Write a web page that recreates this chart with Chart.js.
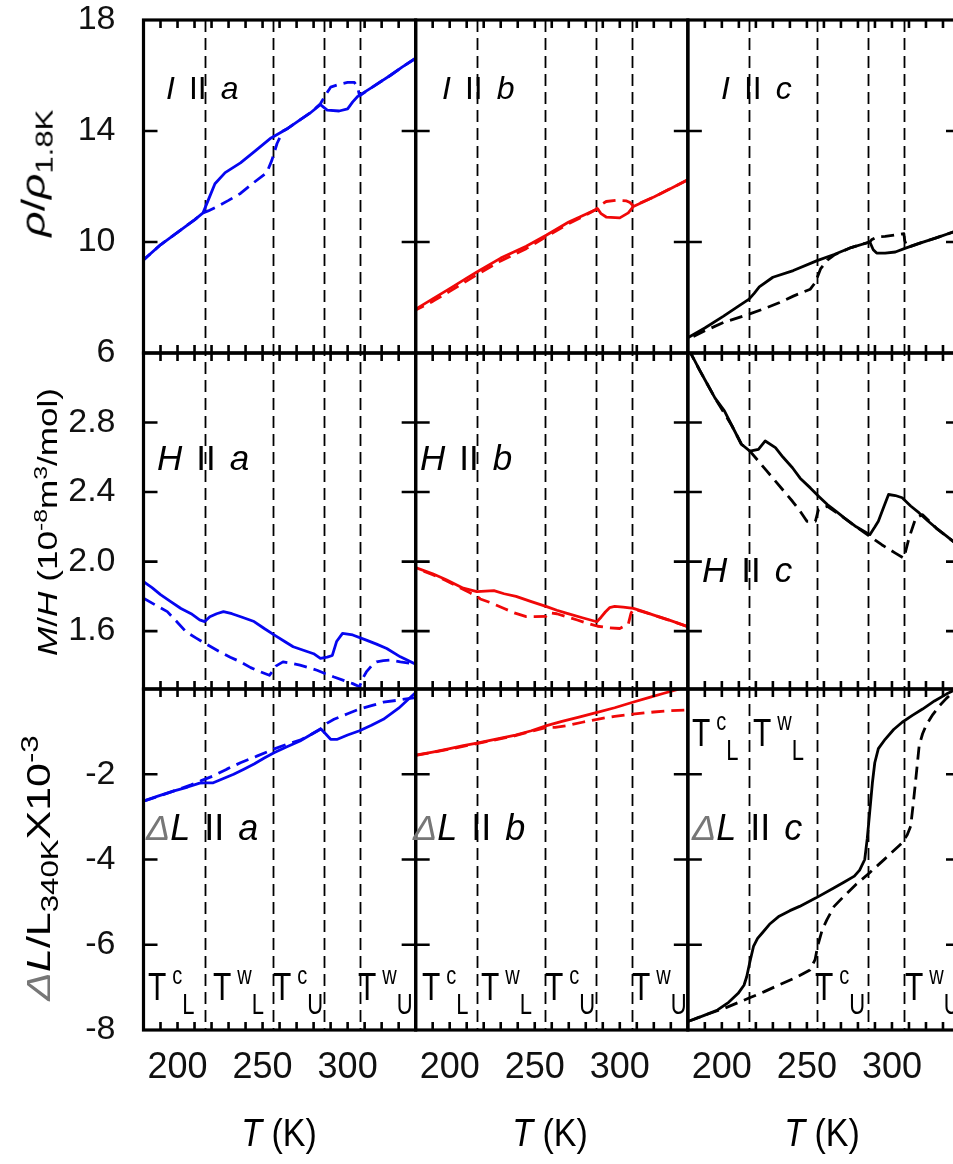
<!DOCTYPE html>
<html>
<head>
<meta charset="utf-8">
<script src="https://cdn.jsdelivr.net/npm/chart.js@4.4.1/dist/chart.umd.min.js"></script>
<style>
  html, body { margin: 0; padding: 0; background: #fff; overflow: hidden; }
  #wrap { position: relative; width: 953px; height: 1164px; overflow: hidden; }
  #wrap canvas { position: absolute; left: 0; top: 0; }
  .lab { position: absolute; font-family: 'Liberation Sans', Arial, sans-serif; color: #000;
         white-space: nowrap; line-height: 1; transform-origin: 0 0; }
  .lab sub, .lab sup { line-height: 1; }
  .d { color: #777; }
</style>
</head>
<body>
<div id="wrap"><canvas id="c" width="962" height="1164"></canvas></div>
<script>
// ---- axes ----
const tRange = [180, 340];
const xTicks = [200, 250, 300];
const minorStep = 10;
const transitionT = [216, 256, 286, 307];   // T_L^c, T_L^w, T_U^c, T_U^w

const rhoRange = [6, 18];
const rhoTicks = [6, 10, 14, 18];
const chiRange = [1.267, 3.2];
const chiTicks = [1.6, 2.0, 2.4, 2.8];
const dlRange = [-8, 0];
const dlTicks = [-8, -6, -4, -2];

// ---- rho / rho(1.8K) ----
const rhoA_solid = [[180,9.35],[190,9.9],[200,10.35],[210,10.8],[215,11.05],[218,11.5],[222,12.1],[228,12.5],[237,12.85],[245,13.25],[255,13.75],[265,14.1],[272,14.4],[278,14.65],[284,14.95],[286,14.85],[288,14.75],[295,14.72],[300,14.8],[303,15.05],[306,15.25],[315,15.6],[325,16.0],[332,16.3],[340,16.62]];
const rhoA_dashed = [[340,16.62],[332,16.3],[325,16.0],[315,15.6],[307,15.27],[306,15.55],[304,15.75],[300,15.75],[295,15.68],[290,15.58],[287,15.3],[284,14.98],[278,14.65],[272,14.4],[265,14.1],[262,14.0],[258.5,13.55],[255.5,12.95],[252.5,12.5],[245,12.15],[237,11.75],[230,11.5],[223,11.27],[218,11.12],[215,11.05],[210,10.8],[200,10.35],[190,9.9],[180,9.35]];
const rhoB_solid = [[180,7.58],[190,7.95],[200,8.32],[210,8.7],[216,8.92],[230,9.42],[245,9.85],[257,10.25],[270,10.72],[280,11.0],[287,11.2],[289,11.02],[292,10.9],[300,10.87],[305,11.05],[308,11.28],[320,11.62],[330,11.93],[340,12.24]];
const rhoB_dashed = [[340,12.24],[330,11.93],[320,11.62],[308,11.3],[306,11.42],[304,11.48],[298,11.5],[292,11.46],[288,11.3],[286,11.17],[280,10.97],[270,10.66],[257,10.2],[245,9.76],[230,9.32],[216,8.82],[200,8.22],[190,7.86],[180,7.55]];
const rhoC_solid = [[180,6.55],[190,6.9],[201,7.33],[210,7.7],[216,7.94],[219,8.15],[222,8.38],[230,8.73],[242,8.97],[256,9.33],[266,9.55],[276,9.8],[287,10.0],[289,9.72],[291,9.6],[296,9.6],[302,9.64],[308,9.78],[316,9.95],[326,10.15],[336,10.36],[340,10.45]];
const rhoC_dashed = [[340,10.45],[336,10.36],[326,10.15],[316,9.95],[309,9.8],[307.5,10.05],[307,10.3],[302,10.25],[296,10.2],[291,10.18],[288,10.08],[287,10.0],[276,9.8],[266,9.53],[262,9.35],[258,9.03],[255,8.55],[252,8.3],[242,8.05],[234,7.82],[225,7.6],[216,7.4],[201,7.1],[190,6.8],[180,6.5]];

// ---- M/H ----
const chiA_solid = [[180,1.885],[185,1.85],[190,1.81],[196,1.77],[202,1.73],[208,1.7],[213,1.665],[216,1.655],[219,1.683],[223,1.70],[227,1.712],[232,1.70],[238,1.68],[245,1.655],[251,1.615],[257,1.577],[263,1.54],[268,1.51],[274,1.49],[280,1.47],[284,1.443],[288,1.45],[291,1.46],[293.5,1.54],[297,1.587],[303,1.578],[311,1.548],[317,1.525],[323,1.50],[331,1.452],[340,1.41]];
const chiA_dashed = [[180,1.79],[187,1.75],[194,1.712],[200,1.65],[205,1.596],[211,1.56],[216,1.53],[225,1.48],[231,1.45],[237,1.423],[243,1.39],[249,1.365],[254,1.346],[256,1.37],[258,1.40],[262,1.423],[267,1.415],[272,1.404],[277,1.39],[282,1.375],[287,1.355],[292,1.336],[298,1.315],[303,1.298],[307,1.28],[309,1.33],[311,1.365],[314,1.40],[317,1.423],[321,1.43],[325,1.433],[331,1.423],[340,1.41]];
const chiB_solid = [[180,1.965],[190,1.93],[198,1.895],[208,1.847],[216,1.827],[221,1.83],[226,1.833],[232,1.815],[239,1.80],[248,1.77],[257,1.741],[263,1.72],[269,1.702],[278,1.677],[286.5,1.654],[289,1.68],[291.5,1.71],[294,1.735],[297,1.742],[302,1.738],[308,1.731],[314,1.712],[320,1.692],[330,1.66],[340,1.625]];
const chiB_dashed = [[340,1.625],[330,1.66],[320,1.692],[308,1.728],[306.5,1.70],[305,1.64],[300,1.615],[293,1.62],[287,1.628],[281,1.645],[275,1.664],[268,1.685],[263,1.70],[258,1.705],[256.5,1.685],[250,1.683],[245,1.683],[238,1.705],[232,1.73],[225,1.76],[218,1.785],[216,1.80],[212,1.82],[205,1.855],[198,1.89],[190,1.925],[180,1.962]];
const chiC_solid = [[180,3.23],[183.5,3.166],[187,3.1],[191.5,3.02],[196,2.94],[201.5,2.867],[206,2.78],[211.5,2.675],[216.5,2.636],[221.5,2.646],[225.5,2.694],[231.5,2.656],[236,2.6],[241.5,2.54],[246,2.48],[252,2.424],[257,2.375],[262,2.328],[267,2.29],[272,2.251],[279,2.2],[287,2.155],[290,2.2],[292,2.232],[295,2.31],[298,2.386],[302,2.38],[306,2.367],[311,2.32],[316,2.28],[321,2.235],[326,2.193],[331,2.155],[336,2.116],[340,2.085]];
const chiC_dashed = [[180,3.23],[187,3.1],[196,2.94],[206,2.78],[211.5,2.675],[216.5,2.636],[221.5,2.578],[226.5,2.52],[231.5,2.463],[236.5,2.405],[241.5,2.347],[246,2.29],[250,2.232],[255,2.232],[256.8,2.30],[262,2.318],[267,2.285],[272,2.25],[279,2.2],[287,2.145],[294,2.097],[302,2.049],[307,2.02],[310,2.135],[314,2.251],[318,2.27],[326,2.193],[336,2.116],[340,2.085]];

// ---- dL / L(340K) x 10^-3 ----
const dlA_solid = [[180,-2.63],[188,-2.52],[198,-2.39],[206,-2.3],[213,-2.21],[216,-2.2],[221,-2.2],[227,-2.1],[233,-2.0],[239,-1.88],[245,-1.76],[251,-1.62],[257,-1.49],[264,-1.36],[272,-1.22],[278,-1.08],[284.3,-0.94],[287,-1.05],[290,-1.18],[294,-1.18],[300,-1.08],[307,-0.98],[314,-0.85],[321,-0.71],[330,-0.45],[340,-0.08]];
const dlA_dashed = [[180,-2.63],[190,-2.5],[200,-2.36],[208,-2.25],[214,-2.15],[221,-2.04],[229,-1.88],[237,-1.73],[247,-1.57],[256.5,-1.41],[264,-1.3],[272,-1.2],[278,-1.08],[284,-0.94],[288,-0.8],[292,-0.71],[300,-0.58],[307,-0.47],[314,-0.39],[321,-0.31],[330,-0.26],[340,-0.2]];
const dlB_solid = [[180,-1.553],[190,-1.48],[200,-1.4],[208,-1.33],[216,-1.27],[228,-1.17],[238.7,-1.08],[248,-0.98],[257,-0.86],[266,-0.76],[276,-0.66],[286.7,-0.55],[297,-0.44],[307.6,-0.31],[318,-0.19],[326,-0.1],[333,-0.02],[340,0.06]];
const dlB_dashed = [[180,-1.56],[200,-1.41],[216,-1.28],[238,-1.1],[257,-0.9],[262,-0.9],[269,-0.86],[278,-0.78],[286.7,-0.71],[297,-0.64],[307.6,-0.59],[320,-0.54],[330,-0.51],[340,-0.49]];
const dlC_solid = [[180,-7.8],[183,-7.76],[190,-7.65],[197.5,-7.53],[204,-7.35],[209.6,-7.14],[213,-6.95],[214.6,-6.75],[216.5,-6.4],[218.6,-6.04],[221,-5.85],[223.6,-5.73],[228,-5.52],[233.7,-5.33],[240,-5.2],[245.7,-5.1],[255.4,-4.9],[265.8,-4.67],[272,-4.53],[277.9,-4.39],[281,-4.25],[284,-4.0],[285.5,-3.5],[286.9,-2.9],[288.5,-2.2],[289.9,-1.73],[292,-1.4],[296,-1.18],[301,-0.95],[306,-0.78],[312,-0.62],[318,-0.47],[325,-0.28],[332,-0.12],[338,0.0]];
const dlC_dashed = [[180,-7.8],[190,-7.65],[201.5,-7.49],[216,-7.25],[225,-7.1],[233.7,-6.94],[243,-6.78],[251.8,-6.59],[254.8,-6.35],[256,-6.1],[256.8,-5.96],[259,-5.65],[261.8,-5.41],[266,-5.1],[271.8,-4.86],[279,-4.58],[286.9,-4.31],[296,-3.98],[306,-3.61],[309,-3.42],[311,-3.22],[312.5,-2.7],[314,-2.12],[316,-1.33],[318,-1.05],[320,-0.86],[324,-0.6],[328,-0.39],[332,-0.22],[335.7,-0.08],[340,0.05]];

const BLUE = '#0606f0';
const RED = '#f00808';
const BLACK = '#000';
const FONT = "'Liberation Sans', Arial, sans-serif";

const colIds = ['x1', 'x2', 'x3'];
const rowIds = ['y1', 'y2', 'y3'];

// panel -> axes, colour, curves
const panels = [
  ['x1', 'y1', BLUE, rhoA_solid, rhoA_dashed],
  ['x2', 'y1', RED, rhoB_solid, rhoB_dashed],
  ['x3', 'y1', BLACK, rhoC_solid, rhoC_dashed],
  ['x1', 'y2', BLUE, chiA_solid, chiA_dashed],
  ['x2', 'y2', RED, chiB_solid, chiB_dashed],
  ['x3', 'y2', BLACK, chiC_solid, chiC_dashed],
  ['x1', 'y3', BLUE, dlA_solid, dlA_dashed],
  ['x2', 'y3', RED, dlB_solid, dlB_dashed],
  ['x3', 'y3', BLACK, dlC_solid, dlC_dashed]
];

const datasets = [];
panels.forEach(([xid, yid, color, solid, dashed]) => {
  const base = { xAxisID: xid, yAxisID: yid, borderColor: color, borderWidth: 2.8,
                 pointRadius: 0, tension: 0, fill: false, borderJoinStyle: 'round' };
  datasets.push({ ...base, data: solid.map(([x, y]) => ({ x, y })) });
  datasets.push({ ...base, data: dashed.map(([x, y]) => ({ x, y })), borderDash: [13, 7] });
});

function xScale(weight) {
  return {
    type: 'linear', position: 'bottom', stack: 'cols', stackWeight: 1, weight,
    min: tRange[0], max: tRange[1],
    grid: { display: false }, border: { display: false },
    afterBuildTicks: s => { s.ticks = xTicks.map(v => ({ value: v })); },
    afterFit: s => { s.height = 134; s.paddingLeft = 0; s.paddingRight = 0; },
    ticks: { font: { family: FONT, size: 36 }, color: '#111', padding: 8,
             maxRotation: 0, autoSkip: false }
  };
}

function yScale(range, ticks, decimals, weight, stackWeight) {
  return {
    type: 'linear', position: 'left', stack: 'rows', stackWeight, weight,
    min: range[0], max: range[1],
    grid: { display: false }, border: { display: false },
    afterBuildTicks: s => { s.ticks = ticks.map(v => ({ value: v })); },
    afterFit: s => { s.width = 143.5; s.paddingTop = 0; s.paddingBottom = 0; },
    ticks: { font: { family: FONT, size: 34 }, color: '#111', padding: 20, autoSkip: false,
             callback: v => v.toFixed(decimals) }
  };
}

// frames, inward ticks and the dashed transition lines
const panelFrames = {
  id: 'panelFrames',
  beforeDatasetsDraw(chart) {
    const { ctx, chartArea } = chart;
    ctx.save();
    ctx.strokeStyle = '#000';
    ctx.lineWidth = 1.8;
    ctx.setLineDash([12, 6]);
    colIds.forEach(id => {
      const xs = chart.scales[id];
      transitionT.forEach(t => {
        const px = Math.round(xs.getPixelForValue(t)) + 0.5;
        ctx.beginPath();
        ctx.moveTo(px, chartArea.top);
        ctx.lineTo(px, chartArea.bottom);
        ctx.stroke();
      });
    });
    ctx.restore();
  },
  afterDatasetsDraw(chart) {
    const ctx = chart.ctx;
    ctx.save();
    ctx.strokeStyle = '#000';
    colIds.forEach(cid => {
      const xs = chart.scales[cid];
      rowIds.forEach(rid => {
        const ys = chart.scales[rid];
        const L = xs.left, R = xs.right, T = ys.top, B = ys.bottom;
        ctx.lineWidth = 2.6;
        ctx.beginPath();
        for (let t = xs.min + minorStep; t < xs.max; t += minorStep) {
          const px = xs.getPixelForValue(t);
          ctx.moveTo(px, T); ctx.lineTo(px, T + 8);
          ctx.moveTo(px, B); ctx.lineTo(px, B - 8);
        }
        ys.ticks.forEach(tk => {
          const py = ys.getPixelForValue(tk.value);
          if (py <= T + 1 || py >= B - 1) return;
          ctx.moveTo(L, py); ctx.lineTo(L + 14, py);
          ctx.moveTo(R, py); ctx.lineTo(R - 14, py);
        });
        ctx.stroke();
        ctx.lineWidth = 3.2;
        ctx.strokeRect(L, T, R - L, B - T);
      });
    });
    ctx.restore();
  }
};

new Chart(document.getElementById('c'), {
  type: 'line',
  data: { datasets },
  options: {
    responsive: false,
    animation: false,
    events: [],
    layout: { padding: { left: 0, top: 20, right: 2, bottom: 0 } },
    plugins: { legend: { display: false }, tooltip: { enabled: false } },
    scales: {
      x1: xScale(1), x2: xScale(2), x3: xScale(3),
      y1: yScale(rhoRange, rhoTicks, 0, 3, 333),
      y2: yScale(chiRange, chiTicks, 1, 2, 336),
      y3: yScale(dlRange, dlTicks, 0, 1, 341)
    }
  },
  plugins: [panelFrames]
});

// ---- text ----
const wrap = document.getElementById('wrap');
function addLabel(html, x, y, size, transform, origin) {
  const d = document.createElement('div');
  d.className = 'lab';
  d.innerHTML = html;
  d.style.left = x + 'px';
  d.style.top = y + 'px';
  d.style.fontSize = size + 'px';
  if (transform) d.style.transform = transform;
  if (origin) d.style.transformOrigin = origin;
  wrap.appendChild(d);
}

const sp = '<span style="display:inline-block;width:14px"></span>';
const par = '<span>II</span>';
function annot(a, b) { return a + sp + par + sp + '<i>' + b + '</i>'; }

addLabel(annot('<i>I</i>', 'a'), 166, 72, 32);
addLabel(annot('<i>I</i>', 'b'), 442, 72, 32);
addLabel(annot('<i>I</i>', 'c'), 721, 72, 32);
addLabel(annot('<i>H</i>', 'a'), 157, 440, 35);
addLabel(annot('<i>H</i>', 'b'), 420, 440, 35);
addLabel(annot('<i>H</i>', 'c'), 702, 552, 35);
const dL = '<i><span class="d">&Delta;</span>L</i>';
addLabel(annot(dL, 'a'), 146, 810, 36);
addLabel(annot(dL, 'b'), 413, 810, 36);
addLabel(annot(dL, 'c'), 692, 810, 36);

function tLabel(sup, sub) {
  return 'T<span style="font-size:20px;vertical-align:12px;margin-left:6px">' + sup +
         '</span><span style="font-size:22px;vertical-align:-11px">' + sub + '</span>';
}
const stretch = 'scaleY(1.3)';
[[148, 'c', 'L'], [213, 'w', 'L'], [273, 'c', 'U'], [358, 'w', 'U'],
 [422, 'c', 'L'], [481, 'w', 'L'], [545, 'c', 'U'], [632, 'w', 'U'],
 [815, 'c', 'U'], [905, 'w', 'U']].forEach(([x, a, b]) => addLabel(tLabel(a, b), x, 962, 30, stretch));
addLabel(tLabel('c', 'L'), 692, 708, 30, stretch);
addLabel(tLabel('w', 'L'), 753, 708, 30, stretch);

// axis titles
const rot = 'translate(-50%,-50%) rotate(-90deg) scaleX(1.3)';
addLabel('<i>&rho;</i>/<i>&rho;</i><sub style="font-size:24px">1.8K</sub>', 36, 173, 34, rot, '50% 50%');
addLabel('<i>M</i>/<i>H</i> (10<sup style="font-size:19px">-8</sup>m<sup style="font-size:19px">3</sup>/mol)', 46, 522, 27, rot, '50% 50%');
addLabel('<i><span class="d">&Delta;</span>L</i>/L<sub style="font-size:24px">340K</sub>X10<sup style="font-size:24px">-3</sup>', 40, 868, 33, rot, '50% 50%');
[279, 550, 822].forEach(x => addLabel('<i>T</i> (K)', x, 1132, 34, 'translate(-50%,-50%) scaleY(1.15)', '50% 50%'));
</script>
</body>
</html>
